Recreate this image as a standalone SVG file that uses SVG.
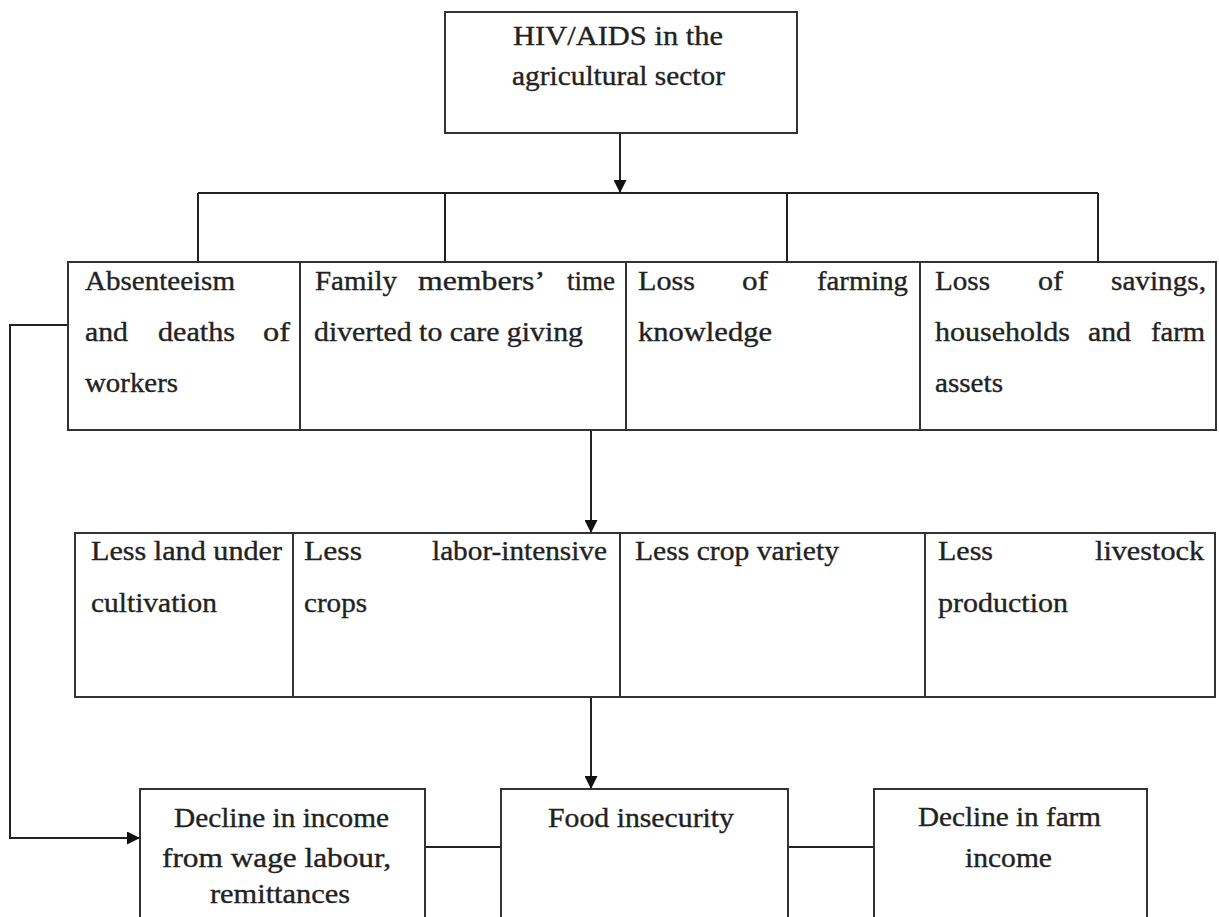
<svg xmlns="http://www.w3.org/2000/svg" width="1219" height="917" viewBox="0 0 1219 917">
<style>
.box{fill:#fff;stroke:#333;stroke-width:2}
.t{font-family:"Liberation Serif","Times New Roman",serif;font-size:27px;fill:#222;stroke:#222;stroke-width:0.35}
.tt{font-family:"Liberation Serif","Times New Roman",serif;font-size:28px;fill:#222;stroke:#222;stroke-width:0.35}
.c{fill:none;stroke:#222;stroke-width:2}
</style>
<defs>
<marker id="ah" markerUnits="userSpaceOnUse" markerWidth="13" markerHeight="13" refX="13" refY="6.5" orient="auto">
<path d="M0,0 L13,6.5 L0,13 z" fill="#111"/>
</marker>
</defs>
<rect width="1219" height="917" fill="#fff"/>
<g id="connectors">
<line class="c" x1="620" y1="133" x2="620" y2="193" marker-end="url(#ah)"/>
<line class="c" x1="198" y1="193" x2="1098" y2="193"/>
<line class="c" x1="198" y1="193" x2="198" y2="262"/>
<line class="c" x1="445" y1="193" x2="445" y2="262"/>
<line class="c" x1="787" y1="193" x2="787" y2="262"/>
<line class="c" x1="1098" y1="193" x2="1098" y2="262"/>
<line class="c" x1="591" y1="430" x2="591" y2="533" marker-end="url(#ah)"/>
<line class="c" x1="591" y1="697" x2="591" y2="789" marker-end="url(#ah)"/>
<polyline class="c" points="68,325 10,325 10,838 140,838" marker-end="url(#ah)"/>
<line class="c" x1="425" y1="847" x2="501" y2="847"/>
<line class="c" x1="788" y1="847" x2="874" y2="847"/>
</g>
<g id="n-hiv">
<rect class="box" x="445" y="12" width="352" height="121"/>
<text class="tt" x="513" y="45" textLength="210" lengthAdjust="spacingAndGlyphs">HIV/AIDS in the</text>
<text class="tt" x="512" y="85" textLength="213" lengthAdjust="spacingAndGlyphs">agricultural sector</text>
</g>
<g id="n-absenteeism">
<rect class="box" x="68" y="262" width="232" height="168"/>
<text class="t" x="85" y="290" textLength="150" lengthAdjust="spacingAndGlyphs">Absenteeism</text>
<text class="t" x="85" y="341" textLength="43" lengthAdjust="spacingAndGlyphs">and</text>
<text class="t" x="158" y="341" textLength="77" lengthAdjust="spacingAndGlyphs">deaths</text>
<text class="t" x="263" y="341" textLength="27" lengthAdjust="spacingAndGlyphs">of</text>
<text class="t" x="85" y="392" textLength="93" lengthAdjust="spacingAndGlyphs">workers</text>
</g>
<g id="n-family">
<rect class="box" x="300" y="262" width="326" height="168"/>
<text class="t" x="315" y="290" textLength="82" lengthAdjust="spacingAndGlyphs">Family</text>
<text class="t" x="418" y="290" textLength="127" lengthAdjust="spacingAndGlyphs">members’</text>
<text class="t" x="567" y="290" textLength="48" lengthAdjust="spacingAndGlyphs">time</text>
<text class="t" x="314" y="341" textLength="269" lengthAdjust="spacingAndGlyphs">diverted to care giving</text>
</g>
<g id="n-knowledge">
<rect class="box" x="626" y="262" width="294" height="168"/>
<text class="t" x="638" y="290" textLength="57" lengthAdjust="spacingAndGlyphs">Loss</text>
<text class="t" x="742" y="290" textLength="26" lengthAdjust="spacingAndGlyphs">of</text>
<text class="t" x="817" y="290" textLength="91" lengthAdjust="spacingAndGlyphs">farming</text>
<text class="t" x="638" y="341" textLength="134" lengthAdjust="spacingAndGlyphs">knowledge</text>
</g>
<g id="n-savings">
<rect class="box" x="920" y="262" width="296" height="168"/>
<text class="t" x="935" y="290" textLength="55" lengthAdjust="spacingAndGlyphs">Loss</text>
<text class="t" x="1038" y="290" textLength="25" lengthAdjust="spacingAndGlyphs">of</text>
<text class="t" x="1111" y="290" textLength="95" lengthAdjust="spacingAndGlyphs">savings,</text>
<text class="t" x="935" y="341" textLength="135" lengthAdjust="spacingAndGlyphs">households</text>
<text class="t" x="1088" y="341" textLength="43" lengthAdjust="spacingAndGlyphs">and</text>
<text class="t" x="1151" y="341" textLength="54" lengthAdjust="spacingAndGlyphs">farm</text>
<text class="t" x="935" y="392" textLength="68" lengthAdjust="spacingAndGlyphs">assets</text>
</g>
<g id="n-land">
<rect class="box" x="75" y="533" width="218" height="164"/>
<text class="t" x="91" y="560" textLength="191" lengthAdjust="spacingAndGlyphs">Less land under</text>
<text class="t" x="91" y="612" textLength="126" lengthAdjust="spacingAndGlyphs">cultivation</text>
</g>
<g id="n-labor">
<rect class="box" x="293" y="533" width="327" height="164"/>
<text class="t" x="304" y="560" textLength="58" lengthAdjust="spacingAndGlyphs">Less</text>
<text class="t" x="432" y="560" textLength="175" lengthAdjust="spacingAndGlyphs">labor-intensive</text>
<text class="t" x="304" y="612" textLength="63" lengthAdjust="spacingAndGlyphs">crops</text>
</g>
<g id="n-variety">
<rect class="box" x="620" y="533" width="305" height="164"/>
<text class="t" x="635" y="560" textLength="204" lengthAdjust="spacingAndGlyphs">Less crop variety</text>
</g>
<g id="n-livestock">
<rect class="box" x="925" y="533" width="290" height="164"/>
<text class="t" x="938" y="560" textLength="55" lengthAdjust="spacingAndGlyphs">Less</text>
<text class="t" x="1095" y="560" textLength="109" lengthAdjust="spacingAndGlyphs">livestock</text>
<text class="t" x="938" y="612" textLength="130" lengthAdjust="spacingAndGlyphs">production</text>
</g>
<g id="n-wage">
<rect class="box" x="140" y="789" width="285" height="140"/>
<text class="t" x="174" y="827" textLength="215" lengthAdjust="spacingAndGlyphs">Decline in income</text>
<text class="t" x="162" y="867" textLength="229" lengthAdjust="spacingAndGlyphs">from wage labour,</text>
<text class="t" x="210" y="903" textLength="140" lengthAdjust="spacingAndGlyphs">remittances</text>
</g>
<g id="n-food">
<rect class="box" x="501" y="789" width="287" height="140"/>
<text class="t" x="548" y="827" textLength="186" lengthAdjust="spacingAndGlyphs">Food insecurity</text>
</g>
<g id="n-farm">
<rect class="box" x="874" y="789" width="273" height="140"/>
<text class="t" x="918" y="826" textLength="183" lengthAdjust="spacingAndGlyphs">Decline in farm</text>
<text class="t" x="965" y="867" textLength="87" lengthAdjust="spacingAndGlyphs">income</text>
</g>
</svg>
